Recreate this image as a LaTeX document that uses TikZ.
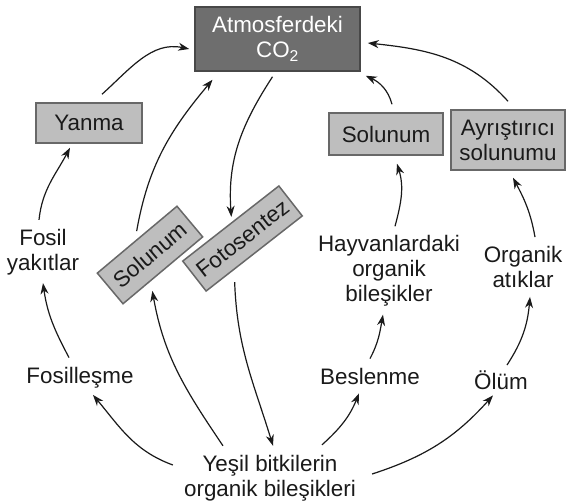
\documentclass[tikz,border=0pt]{standalone}
\usepackage{fontspec}
\setmainfont{Liberation Sans}
\usetikzlibrary{arrows.meta}
\definecolor{cofill}{HTML}{6E6E6E}
\definecolor{codraw}{HTML}{484848}
\definecolor{boxfill}{HTML}{BEBEBE}
\definecolor{boxdraw}{HTML}{686868}
\definecolor{ink}{HTML}{1A1A1A}
\begin{document}
\begin{tikzpicture}[x=1pt,y=-1pt,
  every node/.style={font=\fontsize{22.4}{25}\selectfont, text=ink, align=center, inner sep=0pt},
  cobox/.style={draw=codraw, fill=cofill, line width=1.5pt, text=white, minimum width=165pt, minimum height=64pt},
  graybox/.style={draw=boxdraw, fill=boxfill, line width=1.5pt},
  arr/.style={draw=ink, line width=1.2pt, -{Stealth[length=11pt,width=8pt,inset=3.5pt]}}]
\useasboundingbox (0,0) rectangle (566,504);

\node[cobox] (co2) at (277.5,39){Atmosferdeki\\CO\textsubscript{2}};
\node[graybox, minimum width=106pt, minimum height=40pt] (yanma) at (89,123){Yanma};
\node[graybox, minimum width=114pt, minimum height=42pt] (solA) at (386,134){Solunum};
\node[graybox, minimum width=114pt, minimum height=60pt] (ayr) at (508,140){Ayrıştırıcı\\solunumu};
\node[graybox, minimum width=104pt, minimum height=40pt, rotate=40] (solR) at (150,255){Solunum};
\node[graybox, minimum width=122pt, minimum height=38pt, rotate=38] (foto) at (242.5,238.5){Fotosentez};

\node (fosY) at (43,252){Fosil\\yakıtlar};
\node (hayv) at (389,271){Hayvanlardaki\\organik\\bileşikler};
\node (orgA) at (523,267){Organik\\atıklar};
\node[anchor=base] (fosL) at (80,383){Fosilleşme};
\node[anchor=base] (besl) at (370,384){Beslenme};
\node[anchor=base] (olum) at (501,389){Ölüm};
\node (yesil) at (270,478){Yeşil bitkilerin\\organik bileşikleri};

\draw[arr]([xshift=13pt,yshift=8pt]yanma.north) to[out=42,in=168] ([xshift=-5pt,yshift=-10pt]co2.west);
\draw[arr]([xshift=-4pt,yshift=9pt]fosY.north) to[out=84,in=-118] ([xshift=-19pt,yshift=-4pt]yanma.south);
\draw[arr]([xshift=-11pt,yshift=9pt]fosL.north) to[out=118,in=-82] ([yshift=-8pt]fosY.south);
\draw[arr]([xshift=-11pt,yshift=13pt]yesil.west) to[out=160,in=-50] ([xshift=13pt,yshift=-7pt]fosL.south);
\draw[arr]([xshift=-47pt,yshift=9pt]yesil.north) to[out=124,in=-80] ([xshift=-11pt,yshift=-20pt]solR.south);
\draw[arr]([xshift=-20pt,yshift=-28pt]foto.south) to[out=-88,in=107] ([xshift=3pt,yshift=9pt]yesil.north);
\draw[arr]([xshift=-5pt,yshift=-5pt]co2.south) to[out=-123,in=94] ([xshift=1pt,yshift=6pt]foto.north);
\draw[arr]([yshift=8pt]solR.north) to[out=80,in=-130] ([xshift=-65pt,yshift=-8pt]co2.south);
\draw[arr]([xshift=52pt,yshift=10pt]yesil.north) to[out=42,in=-112] ([xshift=-11pt,yshift=-9pt]besl.south);
\draw[arr]([yshift=9pt]besl.north) to[out=62,in=-100] ([xshift=-6pt,yshift=-8pt]hayv.south);
\draw[arr]([xshift=6pt,yshift=9pt]hayv.north) to[out=75,in=-73] ([xshift=11pt,yshift=-8pt]solA.south);
\draw[arr]([xshift=6pt,yshift=8pt]solA.north) to[out=105,in=-25] ([xshift=5pt,yshift=-4pt]co2.south east);
\draw[arr]([yshift=8pt]ayr.north) to[out=132,in=-6] ([xshift=7pt,yshift=-4pt]co2.east);
\draw[arr]([xshift=16pt,yshift=4pt]yesil.east) to[out=18,in=-132] ([xshift=-8pt,yshift=-6pt]olum.south);
\draw[arr]([xshift=6pt,yshift=5pt]olum.north) to[out=57,in=-95] ([xshift=7pt,yshift=-9pt]orgA.south);
\draw[arr]([xshift=12pt,yshift=9pt]orgA.north) to[out=100,in=-62] ([xshift=5pt,yshift=-7pt]ayr.south);

\end{tikzpicture}
\end{document}
